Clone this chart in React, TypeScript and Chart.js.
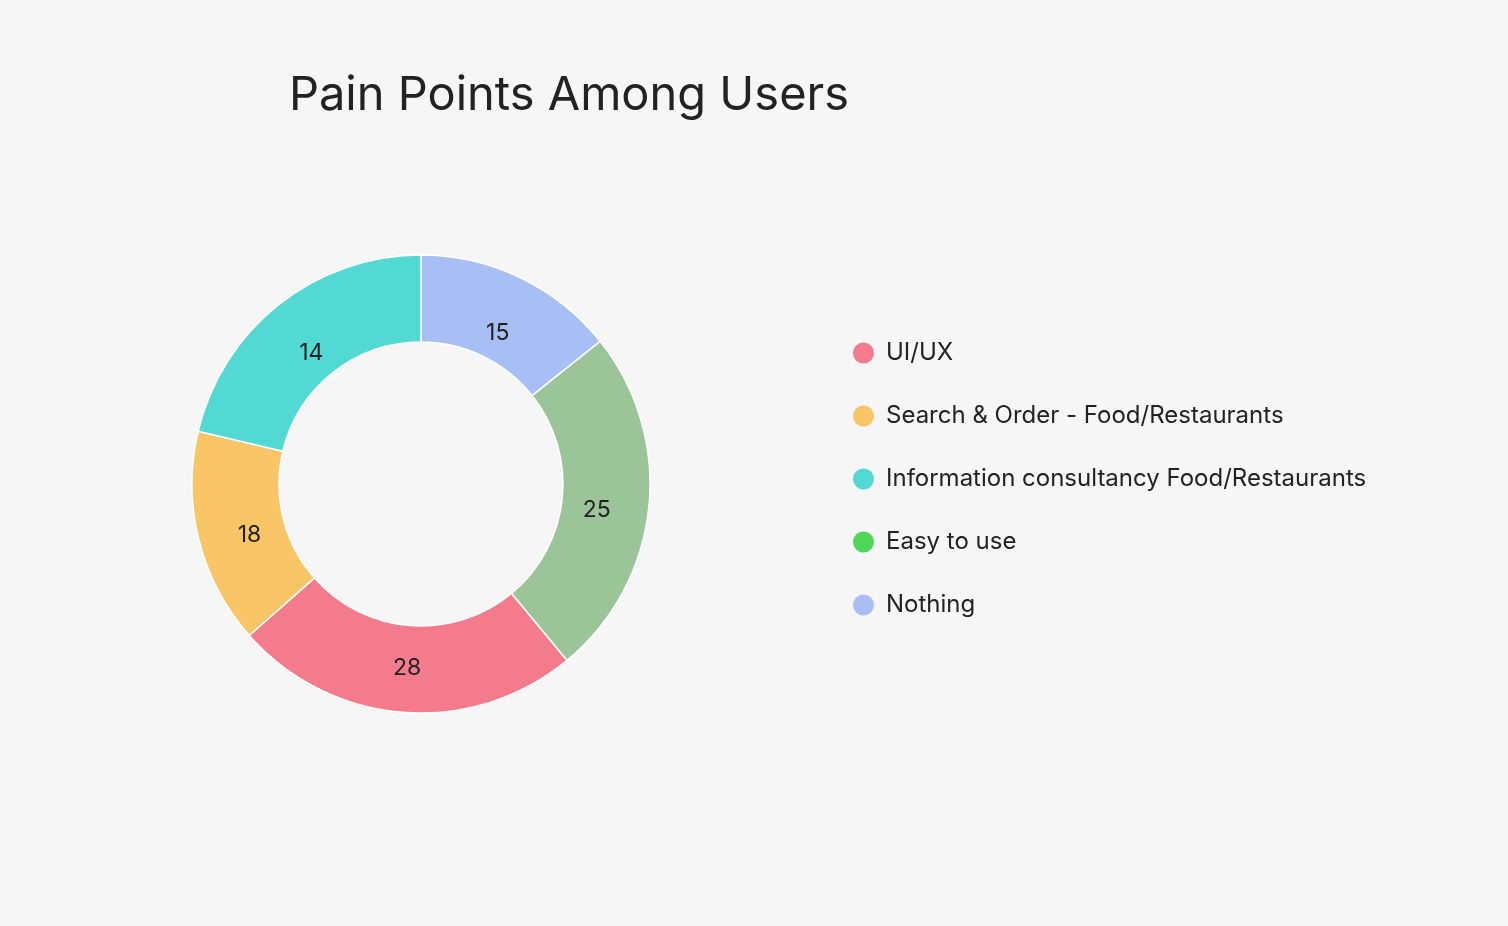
import React, { useEffect, useRef } from "react";
import { Chart, registerables } from "chart.js";

Chart.register(...registerables);

// Slices, clockwise from 12 o'clock
const sliceLabels = [
  "Nothing",
  "Easy to use",
  "UI/UX",
  "Search & Order - Food/Restaurants",
  "Information consultancy Food/Restaurants",
];
const sliceShares = [14.3, 24.7, 24.5, 15.2, 21.3];
const sliceCounts = ["15", "25", "28", "18", "14"];
const sliceColors = ["#a7bff4", "#9bc498", "#f47b8c", "#f9c566", "#53d9d3"];

// Legend (own order and swatch colours)
const legendLabels = [
  "UI/UX",
  "Search & Order - Food/Restaurants",
  "Information consultancy Food/Restaurants",
  "Easy to use",
  "Nothing",
];
const legendColors = ["#f47b8c", "#f9c566", "#53d9d3", "#4fd659", "#a7bff4"];

const chartTitle = "Pain Points Among Users";

const FONT = "Inter, 'Noto Sans', sans-serif";
const W = 1508;
const H = 926;

const titlePlugin = {
  id: "freeTitle",
  afterDraw(chart: any, _args: any, opts: any) {
    const ctx = chart.ctx;
    ctx.save();
    ctx.font = opts.font;
    ctx.fillStyle = opts.color;
    ctx.textAlign = "center";
    ctx.textBaseline = "alphabetic";
    ctx.fillText(opts.text, opts.x, opts.y);
    ctx.restore();
  },
};

const valueLabelPlugin = {
  id: "valueLabels",
  afterDatasetsDraw(chart: any, _args: any, opts: any) {
    const meta = chart.getDatasetMeta(0);
    const ctx = chart.ctx;
    ctx.save();
    ctx.font = opts.font;
    ctx.fillStyle = opts.color;
    ctx.textAlign = "center";
    ctx.textBaseline = "middle";
    meta.data.forEach((arc: any, i: number) => {
      const p = arc.getProps(
        ["x", "y", "startAngle", "endAngle", "innerRadius", "outerRadius"],
        true
      );
      const a = (p.startAngle + p.endAngle) / 2;
      const r = p.innerRadius + (p.outerRadius - p.innerRadius) * opts.radial;
      ctx.fillText(
        opts.texts[i],
        p.x + Math.cos(a) * r,
        p.y + Math.sin(a) * r + opts.dy
      );
    });
    ctx.restore();
  },
};

export default function App() {
  const ref = useRef<HTMLCanvasElement | null>(null);

  useEffect(() => {
    document.body.style.margin = "0";
    document.body.style.background = "#f6f6f6";
    const canvas = ref.current;
    if (!canvas) return;

    const legendFontSize = 24;
    const legendPad = 39;
    const boxSize = 21;
    const m = document.createElement("canvas").getContext("2d")!;
    m.font = `${legendFontSize}px ${FONT}`;
    const maxText = Math.max(...legendLabels.map((t) => m.measureText(t).width));
    const legendWidth = legendPad + boxSize + legendFontSize / 2 + maxText + 10;
    const legendLeft = 814;
    const padRight = W - legendLeft - legendWidth;

    const chart = new Chart(canvas, {
      type: "doughnut",
      data: {
        labels: sliceLabels,
        datasets: [
          {
            data: sliceShares,
            backgroundColor: sliceColors,
            borderColor: "#ffffff",
            borderWidth: 1.5,
            hoverOffset: 0,
            clip: false as any,
          },
        ],
      },
      plugins: [titlePlugin, valueLabelPlugin],
      options: {
        responsive: false,
        animation: false,
        events: [],
        cutout: "62%",
        radius: 229,
        layout: {
          padding: { left: 28, right: padRight, top: 302, bottom: 260 },
        },
        plugins: {
          tooltip: { enabled: false },
          title: { display: false },
          legend: {
            display: true,
            position: "right",
            align: "start",
            labels: {
              boxWidth: boxSize,
              boxHeight: boxSize,
              padding: legendPad,
              color: "#222222",
              font: { family: FONT, size: legendFontSize },
              useBorderRadius: true,
              borderRadius: boxSize / 2,
              generateLabels: () =>
                legendLabels.map((t, i) => ({
                  text: t,
                  fillStyle: legendColors[i],
                  strokeStyle: legendColors[i],
                  lineWidth: 0,
                  borderRadius: boxSize / 2,
                  hidden: false,
                  index: sliceLabels.indexOf(t),
                  fontColor: "#222222",
                })),
            },
          },
          freeTitle: {
            text: chartTitle,
            font: `47px ${FONT}`,
            color: "#222222",
            x: 569,
            y: 110,
          },
          valueLabels: {
            texts: sliceCounts,
            font: `23px ${FONT}`,
            color: "#222222",
            radial: 0.4,
            dy: 8,
          },
        } as any,
      },
    });
    return () => chart.destroy();
  }, []);

  return (
    <div style={{ width: W, height: H, background: "#f6f6f6" }}>
      <canvas ref={ref} width={W} height={H} style={{ display: "block" }} />
    </div>
  );
}
